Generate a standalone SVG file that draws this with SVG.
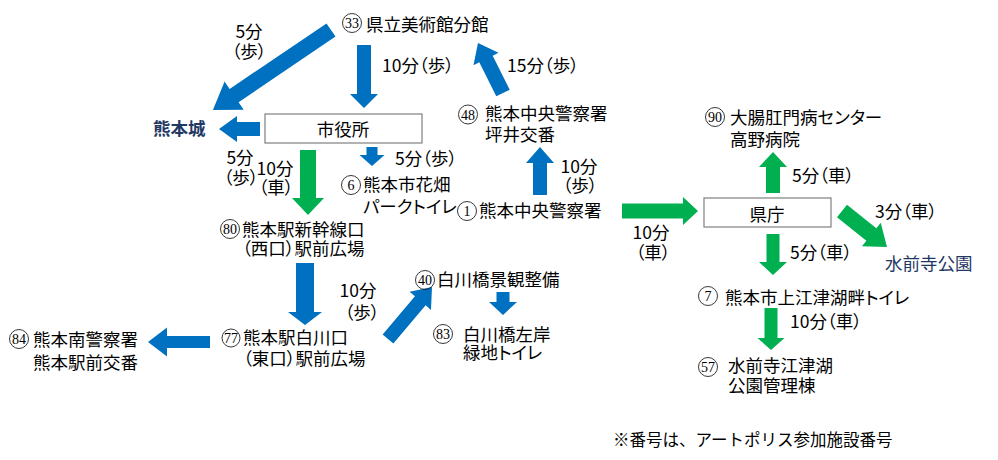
<svg xmlns="http://www.w3.org/2000/svg" width="998" height="460" viewBox="0 0 998 460">
<style>
.t{font-family:"Noto Sans CJK JP","Noto Sans CJK SC",sans-serif;font-size:17.5px;fill:#000;font-feature-settings:"palt"}
.m{text-anchor:middle}
.nv{fill:#1F3864}
.b{font-weight:bold}
.c{fill:none;stroke:#222;stroke-width:0.9}
.n{font-family:"Liberation Serif",serif;font-size:14px;fill:#000;text-anchor:middle}
.box{fill:#fff;stroke:#7f7f7f;stroke-width:1.2}
.bl{fill:#0070C0}
.gr{fill:#00B050}
.note{font-family:"Noto Sans CJK JP","Noto Sans CJK SC",sans-serif;font-size:16.5px;fill:#000}
</style>
<rect width="998" height="460" fill="#fff"/>
<g id="connectors">
  <polygon class="bl" transform="translate(331,30) rotate(145.9)" points="0,-8 117,-8 117,-17 142.6,0 117,17 117,8 0,8"/>
  <polygon class="bl" transform="translate(364,45) rotate(90)" points="0,-7 49,-7 49,-14 63,0 49,14 49,7 0,7"/>
  <polygon class="bl" transform="translate(260,129) rotate(180)" points="0,-7 23,-7 23,-13 41,0 23,13 23,7 0,7"/>
  <polygon class="gr" transform="translate(308,150) rotate(90)" points="0,-8 48,-8 48,-16 65,0 48,16 48,8 0,8"/>
  <polygon class="bl" transform="translate(372,147) rotate(90)" points="0,-5.5 8,-5.5 8,-12.5 19,0 8,12.5 8,5.5 0,5.5"/>
  <polygon class="bl" transform="translate(540,195) rotate(-90)" points="0,-7 32,-7 32,-14 48,0 32,14 32,7 0,7"/>
  <polygon class="bl" transform="translate(503,93) rotate(-116.57)" points="0,-7.5 38,-7.5 38,-14 55.9,0 38,14 38,7.5 0,7.5"/>
  <polygon class="gr" transform="translate(622,211)" points="0,-7.5 61,-7.5 61,-14 76,0 61,14 61,7.5 0,7.5"/>
  <polygon class="gr" transform="translate(773,193) rotate(-90)" points="0,-7 26,-7 26,-14 41,0 26,14 26,7 0,7"/>
  <polygon class="gr" transform="translate(773,234) rotate(90)" points="0,-6.5 28,-6.5 28,-14 41,0 28,14 28,6.5 0,6.5"/>
  <polygon class="gr" transform="translate(842,211) rotate(38.66)" points="0,-8 37.6,-8 37.6,-15 57.6,0 37.6,15 37.6,8 0,8"/>
  <polygon class="gr" transform="translate(771,308) rotate(90)" points="0,-6.5 30,-6.5 30,-13.5 42,0 30,13.5 30,6.5 0,6.5"/>
  <polygon class="bl" transform="translate(305,263) rotate(90)" points="0,-9 49,-9 49,-17 62,0 49,17 49,9 0,9"/>
  <polygon class="bl" transform="translate(210,342) rotate(180)" points="0,-6 43,-6 43,-14.5 62,0 43,14.5 43,6 0,6"/>
  <polygon class="bl" transform="translate(388,339) rotate(-49.76)" points="0,-7 50,-7 50,-14 68.1,0 50,14 50,7 0,7"/>
  <polygon class="bl" transform="translate(503,292) rotate(90)" points="0,-6.5 10,-6.5 10,-14 23,0 10,14 10,6.5 0,6.5"/>
</g>
<g id="edge-labels">
  <text class="t m" x="249" y="38">5分</text>
  <text class="t m" x="249" y="58">（歩）</text>
  <text class="t" x="382" y="72">10分（歩）</text>
  <text class="t" x="507" y="72">15分（歩）</text>
  <text class="t m" x="240" y="164">5分</text>
  <text class="t m" x="241" y="184">（歩）</text>
  <text class="t m" x="275" y="175">10分</text>
  <text class="t m" x="276" y="194">（車）</text>
  <text class="t" x="395" y="165">5分（歩）</text>
  <text class="t m" x="579" y="173">10分</text>
  <text class="t m" x="580" y="192">（歩）</text>
  <text class="t m" x="651" y="239">10分</text>
  <text class="t m" x="653" y="259">（車）</text>
  <text class="t" x="792" y="182">5分（車）</text>
  <text class="t" x="875" y="218">3分（車）</text>
  <text class="t" x="790" y="259">5分（車）</text>
  <text class="t" x="790" y="328">10分（車）</text>
  <text class="t m" x="358" y="297">10分</text>
  <text class="t m" x="362" y="319">（歩）</text>
</g>
<g id="n33">
  <circle class="c" cx="352" cy="23" r="9.5"/><text class="n" x="352" y="28">33</text>
  <text class="t" x="366" y="31">県立美術館分館</text>
</g>
<g id="kumamotojo"><text class="t nv b" x="153" y="135">熊本城</text></g>
<g id="shiyakusho">
  <rect class="box" x="265" y="114" width="157" height="29"/>
  <text class="t m" x="343" y="136">市役所</text>
</g>
<g id="n6">
  <circle class="c" cx="351" cy="185" r="9.5"/><text class="n" x="351" y="190">6</text>
  <text class="t" x="363" y="191">熊本市花畑</text>
  <text class="t" x="363" y="213">パークトイレ</text>
</g>
<g id="n48">
  <circle class="c" cx="468" cy="114.5" r="9.5"/><text class="n" x="468" y="119.5">48</text>
  <text class="t" x="485" y="120">熊本中央警察署</text>
  <text class="t" x="485" y="141">坪井交番</text>
</g>
<g id="n1">
  <circle class="c" cx="467" cy="211" r="9.5"/><text class="n" x="467" y="216">1</text>
  <text class="t" x="479" y="217">熊本中央警察署</text>
</g>
<g id="n80">
  <circle class="c" cx="230" cy="229" r="9.5"/><text class="n" x="230" y="234">80</text>
  <text class="t" x="242" y="236">熊本駅新幹線口</text>
  <text class="t" x="242" y="255">（西口）駅前広場</text>
</g>
<g id="kencho">
  <rect class="box" x="704" y="198" width="127" height="29"/>
  <text class="t m" x="767" y="221">県庁</text>
</g>
<g id="n90">
  <circle class="c" cx="715" cy="117" r="9.5"/><text class="n" x="715" y="122">90</text>
  <text class="t" x="730" y="124">大腸肛門病センター</text>
  <text class="t" x="730" y="146">高野病院</text>
</g>
<g id="suizenji"><text class="t nv" x="885" y="270">水前寺公園</text></g>
<g id="n7">
  <circle class="c" cx="708" cy="296" r="9.5"/><text class="n" x="708" y="301">7</text>
  <text class="t" x="725" y="304">熊本市上江津湖畔トイレ</text>
</g>
<g id="n57">
  <circle class="c" cx="708" cy="367" r="9.5"/><text class="n" x="708" y="372">57</text>
  <text class="t" x="728" y="372">水前寺江津湖</text>
  <text class="t" x="728" y="392">公園管理棟</text>
</g>
<g id="n40">
  <circle class="c" cx="425" cy="280" r="9.5"/><text class="n" x="425" y="285">40</text>
  <text class="t" x="437" y="286">白川橋景観整備</text>
</g>
<g id="n83">
  <circle class="c" cx="443" cy="334" r="9.5"/><text class="n" x="443" y="339">83</text>
  <text class="t" x="463" y="341">白川橋左岸</text>
  <text class="t" x="463" y="359">緑地トイレ</text>
</g>
<g id="n77">
  <circle class="c" cx="231" cy="338" r="9"/><text class="n" x="231" y="343">77</text>
  <text class="t" x="243" y="344">熊本駅白川口</text>
  <text class="t" x="243" y="365">（東口）駅前広場</text>
</g>
<g id="n84">
  <circle class="c" cx="19" cy="339" r="9.5"/><text class="n" x="19" y="344">84</text>
  <text class="t" x="33" y="346">熊本南警察署</text>
  <text class="t" x="33" y="369">熊本駅前交番</text>
</g>
<g id="note"><text class="note" x="613" y="446">※番号は、アートポリス参加施設番号</text></g>
</svg>
